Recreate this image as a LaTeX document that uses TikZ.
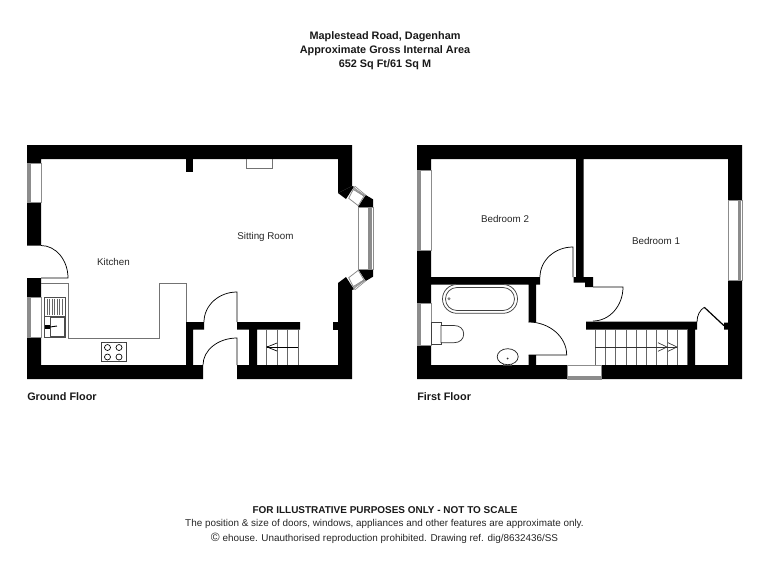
\documentclass[tikz,border=0pt]{standalone}
\usepackage{fontspec}
\setmainfont{Liberation Sans}
\tikzset{
 wall/.style={fill=black,draw=none},
 grey line/.style={draw=black!55,line width=0.7pt},
 glass/.style={draw=black!45,line width=0.6pt,fill=white},
 band/.style={fill=black!45,draw=none},
 fix/.style={draw=black!75,line width=0.55pt,fill=white},
 stairline/.style={draw=black!60,line width=0.6pt},
 door/.style={draw=black,line width=0.55pt},
 room/.style={font=\fontsize{7.35pt}{9pt}\selectfont,text=black!85,inner sep=0pt},
 title/.style={font=\fontsize{8.15pt}{9pt}\selectfont\bfseries,text=black!90,inner sep=0pt},
 foot/.style={font=\fontsize{7.42pt}{9pt}\selectfont,text=black!85,inner sep=0pt},
}
\begin{document}
\begin{tikzpicture}[x=0.75pt,y=-0.75pt]
\useasboundingbox (0,0) rectangle (768,576);
\fill[white] (0,0) rectangle (768,576);
% ===== texts
\node[title] (t1) at (385,37) {Maplestead Road, Dagenham};
\node[title] (t2) at (385,51) {Approximate Gross Internal Area};
\node[title] (t3) at (385,65) {652 Sq Ft/61 Sq M};
\node[room] (kitchen) at (113.5,262) {Kitchen};
\node[room] (sitting) at (265.5,237) {Sitting Room};
\node[room] (bed2) at (505,218.5) {Bedroom 2};
\node[room] (bed1) at (656,240.5) {Bedroom 1};
\node[title,anchor=west] (gf) at (27,397) {Ground Floor};
\node[title,anchor=west] (ff) at (417,397) {First Floor};
\node[title,font=\fontsize{7.47pt}{9pt}\selectfont\bfseries] (f1) at (385,510) {FOR ILLUSTRATIVE PURPOSES ONLY - NOT TO SCALE};
\node[foot] (f2) at (384.5,524) {The position \& size of doors, windows, appliances and other features are approximate only.};
\node[foot] (f3) at (384.5,538) {{\fontsize{9pt}{9pt}\selectfont ©} ehouse. Unauthorised reproduction prohibited. Drawing ref. dig/8632436/SS};
% ===== GROUND FLOOR walls
\fill[wall] (27,145) -- (352,145) -- (352,186) -- (338,193) -- (338,159) -- (41,159) -- (41,245.5) -- (27,245.5) -- cycle;
\fill[wall] (352,186) -- (338,193) -- (346,199) -- (354,186.7) -- cycle;
\fill[wall] (27,278) -- (41,278) -- (41,365) -- (186,365) -- (186,322) -- (204,322) -- (204,329.5) -- (193,329.5) -- (193,365) -- (203,365) -- (203,379) -- (27,379) -- cycle;
\fill[wall] (237,322) -- (300,322) -- (300,329.5) -- (257,329.5) -- (257,365) -- (338,365) -- (338,283) -- (346,277) -- (354,289.3) -- (352,290) -- (352,379) -- (237,379) -- (237,365) -- (249,365) -- (249,329.5) -- (237,329.5) -- cycle;
\fill[wall] (333,322) rectangle (338,329.5);
\fill[wall] (186,159) rectangle (193,172);
% corner blocks of bay
\fill[wall] (365.7,195) -- (373,199.3) -- (373,207) -- (358,207) -- cycle;
\fill[wall] (365.7,281) -- (373,276.7) -- (373,269) -- (358,269) -- cycle;
% left windows
\path[glass] (27,163) rectangle (41,202);
\fill[band] (28,163) rectangle (31,202);
\path[glass] (27,297) rectangle (41,337);
\fill[band] (28,297) rectangle (31,337);
% bay windows
\path[glass] (358,207) rectangle (373,269);
\fill[band] (368,207) rectangle (371.5,269);
\draw[glass] (353.3,189.3) -- (348.7,198.3) -- (358.3,205.7) -- (364,196) -- cycle;
\draw[black!45,line width=0.5pt,fill=white] (353.3,189.3) -- (355,186.3) -- (365.6,195) -- (364,196) -- cycle;
\draw[black!45,line width=0.5pt] (354.3,187.9) -- (364.8,195.6);
\draw[black!45,line width=0.5pt] (353.8,188.6) -- (364.4,195.9);
\draw[glass] (353.3,286.7) -- (348.7,277.7) -- (358.3,270.3) -- (364,280) -- cycle;
\draw[black!45,line width=0.5pt,fill=white] (353.3,286.7) -- (355,289.7) -- (365.6,281) -- (364,280) -- cycle;
\draw[black!45,line width=0.5pt] (354.3,288.1) -- (364.8,280.4);
\draw[black!45,line width=0.5pt] (353.8,287.4) -- (364.4,280.1);
% fire place
\draw[grey line] (246,159) -- (246,168.5) -- (272.5,168.5) -- (272.5,159);
% worktop
\draw[grey line] (41,283) -- (68,283) -- (68,338) -- (159,338) -- (159,283) -- (186,283) -- (186,322);
% sink
\draw[fix,draw=black!70,line width=0.7pt] (44,297) rectangle (65,337);
\foreach \x in {47,49.5,...,63}{\draw[black!60,line width=0.5pt] (\x,298.5) -- (\x,315);}
\draw[black!70,line width=0.5pt] (44,316) -- (65,316);
\draw[black!70,line width=0.6pt] (50,317) rectangle (64,336);
\fill[black] (44.5,325) rectangle (50,329);
\draw[black,line width=0.7pt] (50,327) -- (57,326);
% hob
\draw[fix] (101.5,342.5) rectangle (126,361);
\foreach \x in {107.5,119}{\foreach \y in {347.5,357}{\draw[black,line width=0.5pt] (\x,\y) circle[radius=3];}}
\foreach \x in {105,112,117,122}{\draw[black!70,line width=0.7pt] (\x,342.5) -- +(2,0);}
% doors
\draw[door] (41,278) -- (68,278) .. controls (68,260.1) and (55.9,245.5) .. (41,245.5);
\draw[door] (237,322) -- (237,292) .. controls (218.8,292) and (204,305.4) .. (204,322);
\draw[door] (237,365) -- (237,338) .. controls (218.2,338) and (203,350.1) .. (203,365);
% stairs GF
\foreach \x in {266.5,277,287,298}{\draw[stairline] (\x,329.5) -- (\x,365);}
\draw[black,line width=0.5pt] (267,347) -- (298,347);
\draw[black,line width=0.5pt] (277,343) -- (267,347) -- (277,351);
\fill[black] (267.5,347) circle[radius=0.9];
% ===== FIRST FLOOR walls
\fill[wall] (417,145) -- (742,145) -- (742,200) -- (728,200) -- (728,159) -- (583.5,159) -- (583.5,277) -- (593,277) -- (593,287) -- (585,287) -- (585,282.7) -- (573.5,282.7) -- (573.5,277.2) -- (576,277.2) -- (576,159) -- (431,159) -- (431,170) -- (417,170) -- cycle;
\fill[wall] (417,250) -- (431,250) -- (431,277) -- (540,277) -- (540,284.5) -- (536,284.5) -- (536,322) -- (528.5,322) -- (528.5,284.5) -- (431,284.5) -- (431,303) -- (417,303) -- cycle;
\fill[wall] (417,345) -- (431,345) -- (431,365) -- (528.5,365) -- (528.5,355) -- (536,355) -- (536,365) -- (567,365) -- (567,379) -- (417,379) -- cycle;
\fill[wall] (601,365) -- (688,365) -- (688,329.5) -- (586,329.5) -- (586,321.7) -- (697,321.7) -- (697,329.5) -- (695,329.5) -- (695,365) -- (728,365) -- (728,329.5) -- (724,329.5) -- (724,322.7) -- (728,322.7) -- (728,280.5) -- (742,280.5) -- (742,379) -- (601,379) -- cycle;
% windows
\path[glass] (417,170) rectangle (431,250);
\fill[band] (418,170) rectangle (421,250);
\path[glass] (417,303) rectangle (431,345);
\fill[band] (418,303) rectangle (421,345);
\path[glass] (728,200) rectangle (742,280.5);
\fill[band] (738,200) rectangle (741,280.5);
\path[glass] (567,365) rectangle (601,379);
\fill[band] (567,376) rectangle (601,378.5);
% bath
\path[fix,rounded corners=10.8pt] (442.5,284.5) rectangle (517.5,313.3);
\path[fix,rounded corners=8.6pt] (445.5,287.5) rectangle (514.5,310.5);
\fill[black!50] (449,298.7) circle[radius=1.7];
% toilet
\draw[fix] (431,322.7) rectangle (441,344.3);
\path[fix,draw=black!80] (441,325.5) -- (454,325.5) .. controls (460,325.5) and (463.7,329) .. (463.7,334) .. controls (463.7,339) and (460,342.7) .. (454,342.7) -- (441,342.7) -- cycle;
% basin
\draw[fix] (503.7,362.5) rectangle (511.7,365);
\draw[fix,draw=black!85] (507.7,356.7) ellipse[x radius=10.5,y radius=8];
\fill[black!80] (507.7,358.5) circle[radius=1];
% doors FF
\draw[door] (573,277) -- (573,247) .. controls (554.8,247) and (540,260.4) .. (540,277);
\draw[door] (593,287) -- (623,287) .. controls (623,305.8) and (609.6,321) .. (593,321);
\draw[door] (528.5,355) -- (566.7,355) .. controls (566.7,336.8) and (549.4,322) .. (528.5,322);
\draw[door] (697,322) .. controls (697,315) and (700,310) .. (704.3,307.3);
\draw[black,line width=0.9pt] (704.3,307.3) -- (724,325.7);
% stairs FF
\foreach \x in {595,605.3,615.6,625.9,636.2,646.5,656.8,667.1,677.4,687.7}{\draw[stairline] (\x,329.5) -- (\x,365);}
\draw[black!80,line width=0.5pt] (595,347) -- (677,347);
\draw[black!80,line width=0.5pt] (658,342.7) -- (667,347) -- (658,351.3);
\draw[black!80,line width=0.5pt] (668,342.7) -- (677,347) -- (668,351.3);
\end{tikzpicture}
\end{document}
